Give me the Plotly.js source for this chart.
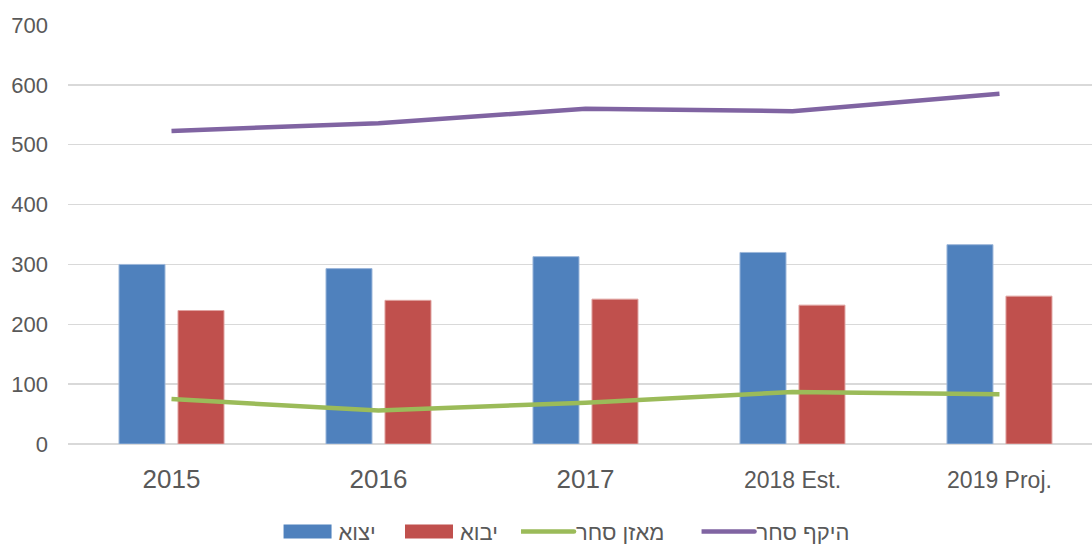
<!DOCTYPE html>
<html>
<head>
<meta charset="utf-8">
<script src="https://cdn.plot.ly/plotly-3.0.1.min.js"></script>
<style>html,body{margin:0;padding:0;overflow:hidden;background:#fff;}</style>
</head>
<body>
<div id="chart" style="width:1092px;height:560px;"></div>
<script>
var categories = ['2015', '2016', '2017', '2018 Est.', '2019 Proj.'];
var exportsVals = [300, 293, 313, 320, 333];
var importsVals = [223, 240, 242, 232, 247];
var balanceVals = [75, 56, 69, 87, 83];
var volumeVals = [523, 536, 560, 556, 585];
var seriesNames = ['יצוא', 'יבוא', 'מאזן סחר', 'היקף סחר'];
var yTicks = [0, 100, 200, 300, 400, 500, 600, 700];

var xIdx = categories.map(function (c, i) { return i; });
var tickText = categories.map(function (c) {
  return c.length > 4 ? '<span style="font-size:23px">' + c + '</span>' : c;
});

var traces = [
  {type: 'bar', name: seriesNames[0], x: xIdx, y: exportsVals, legend: 'legend',
   marker: {color: '#4F81BD', line: {color: '#9db7da', width: 1}}, hoverinfo: 'y'},
  {type: 'bar', name: seriesNames[1], x: xIdx, y: importsVals, legend: 'legend2',
   marker: {color: '#C0504D', line: {color: '#e0a3a1', width: 1}}, hoverinfo: 'y'},
  {type: 'scatter', mode: 'lines', name: seriesNames[2], x: xIdx, y: balanceVals, legend: 'legend3',
   line: {color: '#9BBB59', width: 4.5}, hoverinfo: 'y'},
  {type: 'scatter', mode: 'lines', name: seriesNames[3], x: xIdx, y: volumeVals, legend: 'legend4',
   line: {color: '#8064A2', width: 4.5}, hoverinfo: 'y'}
];

function leg(x) {
  return {orientation: 'h', x: x, xanchor: 'left', y: -0.2093, yanchor: 'middle',
          font: {size: 22, color: '#595959'}, itemwidth: 45, bgcolor: 'rgba(0,0,0,0)'};
}

var layout = {
  width: 1092, height: 560,
  margin: {l: 68, r: 0, t: 25, b: 116, autoexpand: false},
  paper_bgcolor: '#fff', plot_bgcolor: '#fff',
  font: {family: 'Liberation Sans, Arial, DejaVu Sans, sans-serif', color: '#595959'},
  barmode: 'group', bargap: 0.43, bargroupgap: 0.22,
  showlegend: true,
  legend: leg(0.2105), legend2: leg(0.3291), legend3: leg(0.4424), legend4: leg(0.6187),
  xaxis: {
    range: [-0.5, 4.447], tickmode: 'array', tickvals: xIdx, ticktext: tickText,
    tickfont: {size: 26, color: '#595959'}, showgrid: false, zeroline: false,
    showline: false, ticks: '', ticklabelstandoff: 17, fixedrange: true
  },
  yaxis: {
    range: [0, 700], tickmode: 'array', tickvals: yTicks,
    tickfont: {size: 22, color: '#595959'}, showgrid: true, gridcolor: '#d9d9d9', gridwidth: 1.3,
    zeroline: true, zerolinecolor: '#d9d9d9', zerolinewidth: 1.5, showline: false,
    ticks: '', ticklabelstandoff: 19, fixedrange: true
  }
};

Plotly.newPlot('chart', traces, layout, {displayModeBar: false, staticPlot: true}).then(function (gd) {
  // widen legend symbols to match the reference's wide swatches
  gd.querySelectorAll('.legendpoints path').forEach(function (p) {
    var d = p.getAttribute('d') || '';
    if (/^M6,6H-6V-6H6Z$/.test(d)) {
      p.setAttribute('d', 'M20.5,7H-30.5V-7H20.5Z');
      p.style.strokeWidth = '0px';
    }
  });
  gd.querySelectorAll('.legendlines path').forEach(function (p) {
    var bb = p.getBBox();
    var cx = bb.x + bb.width / 2 - 2;
    p.setAttribute('d', 'M' + (cx - 27.5) + ',0h55');
    p.style.strokeLinecap = 'round';
  });
});
</script>
</body>
</html>
